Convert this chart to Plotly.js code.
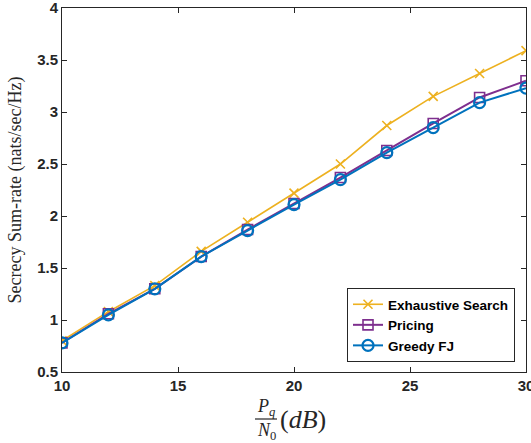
<!DOCTYPE html>
<html><head><meta charset="utf-8">
<script src="https://cdn.plot.ly/plotly-3.0.1.min.js"></script>
<style>body{margin:0;background:#fff}#c{width:531px;height:443px}</style>
</head><body><div id="c"></div>
<script>
const snr = [10, 12, 14, 16, 18, 20, 22, 24, 26, 28, 30];
const exhaustive = [0.80, 1.08, 1.33, 1.66, 1.94, 2.22, 2.50, 2.87, 3.15, 3.37, 3.59];
const pricing = [0.78, 1.06, 1.30, 1.61, 1.87, 2.12, 2.37, 2.63, 2.89, 3.14, 3.30];
const greedy = [0.78, 1.05, 1.30, 1.61, 1.86, 2.11, 2.35, 2.61, 2.85, 3.09, 3.23];
const seriesNames = ['Exhaustive Search', 'Pricing', 'Greedy FJ'];
const xTicks = [10, 15, 20, 25, 30];
const yTicks = [0.5, 1, 1.5, 2, 2.5, 3, 3.5, 4];

const L = 62, R = 526, T = 8, B = 372;
const px = p => (p - L) / (R - L);
const py = p => (B - p) / (B - T);

const traces = [
  {x: snr, y: exhaustive, name: seriesNames[0], mode: 'lines+markers',
   line: {color: '#EDB120', width: 1.6},
   marker: {symbol: 'x-thin-open', size: 9, line: {color: '#EDB120', width: 1.6}}},
  {x: snr, y: pricing, name: seriesNames[1], mode: 'lines+markers',
   line: {color: '#7E2F8E', width: 2},
   marker: {symbol: 'square-open', size: 10, color: '#7E2F8E', line: {color: '#7E2F8E', width: 1.6}}},
  {x: snr, y: greedy, name: seriesNames[2], mode: 'lines+markers',
   line: {color: '#0072BD', width: 2},
   marker: {symbol: 'circle-open', size: 11, color: '#0072BD', line: {color: '#0072BD', width: 2.2}}}
];

const axisCommon = {
  showgrid: false, zeroline: false, showline: true, mirror: 'ticks',
  linecolor: '#262626', linewidth: 1, ticks: 'inside', ticklen: 5,
  tickcolor: '#262626', tickwidth: 1, ticklabeloverflow: 'allow',
  tickfont: {family: 'Liberation Sans, Arial, sans-serif', size: 15, color: '#262626', weight: 'bold'}
};

const layout = {
  width: 531, height: 443,
  margin: {l: L, r: 531 - R, t: T, b: 443 - B},
  paper_bgcolor: '#fff', plot_bgcolor: '#fff',
  showlegend: true,
  legend: {
    x: px(515), y: py(362), xanchor: 'right', yanchor: 'bottom',
    bgcolor: '#fff', bordercolor: '#262626', borderwidth: 1,
    font: {family: 'Liberation Sans, Arial, sans-serif', size: 13.5, color: '#000', weight: 'bold'},
    tracegroupgap: 0, itemwidth: 30
  },
  xaxis: Object.assign({}, axisCommon, {range: [10, 30], tickvals: xTicks, ticktext: xTicks.map(String)}),
  yaxis: Object.assign({}, axisCommon, {range: [0.5, 4], tickvals: yTicks, ticktext: yTicks.map(String),
    title: {text: 'Secrecy Sum-rate (nats/sec/Hz)', standoff: 10,
      font: {family: 'Liberation Serif, DejaVu Serif, serif', size: 18, color: '#262626'}}}),
  shapes: [
    {type: 'line', xref: 'paper', yref: 'paper', x0: px(255), x1: px(277), y0: py(419), y1: py(419),
     line: {color: '#262626', width: 1.2}}
  ],
  annotations: [
    {xref: 'paper', yref: 'paper', x: px(266), y: py(407), showarrow: false, xanchor: 'center', yanchor: 'middle',
     text: '<i>P<sub>q</sub></i>', font: {family: 'Liberation Serif, serif', size: 18, color: '#262626'}},
    {xref: 'paper', yref: 'paper', x: px(266), y: py(431), showarrow: false, xanchor: 'center', yanchor: 'middle',
     text: '<i>N</i><sub>0</sub>', font: {family: 'Liberation Serif, serif', size: 18, color: '#262626'}},
    {xref: 'paper', yref: 'paper', x: px(278), y: py(419), showarrow: false, xanchor: 'left', yanchor: 'middle',
     text: '(<i>dB</i>)', font: {family: 'Liberation Serif, serif', size: 26, color: '#262626'}}
  ]
};

Plotly.newPlot('c', traces, layout, {displayModeBar: false, staticPlot: true});
</script></body></html>
